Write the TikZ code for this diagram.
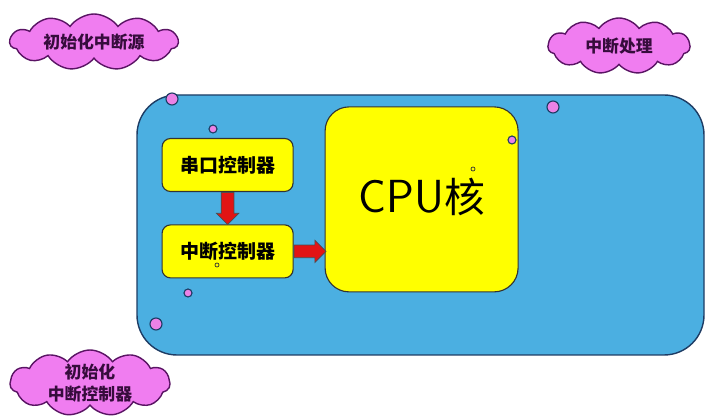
\documentclass[tikz,border=0pt]{standalone}
\usepackage{fontspec}
\newfontfamily\cjk{Noto Sans CJK SC}
\usetikzlibrary{shapes.symbols,shapes.arrows}
\definecolor{boardblue}{RGB}{75,175,225}
\definecolor{boardline}{RGB}{30,60,100}
\definecolor{chipyel}{RGB}{255,255,0}
\definecolor{cloudpink}{RGB}{240,125,240}
\definecolor{cloudline}{RGB}{90,20,100}
\definecolor{dotpink}{RGB}{235,130,230}
\definecolor{arrred}{RGB}{225,20,20}

\tikzset{
  cloudbox/.style={cloud, cloud puffs=11, cloud puff arc=110, draw=cloudline,
    fill=cloudpink, line width=1pt, inner sep=0pt},
  cloudtext/.style={font=\cjk\bfseries\fontsize{12}{16}\selectfont, text=cloudline!60!black, align=center},
  chipbox/.style={draw=black!80, fill=chipyel, rounded corners=6pt, line width=0.8pt,
    minimum width=3.275cm, minimum height=1.325cm, font=\cjk\bfseries\fontsize{13.5}{16}\selectfont},
  flowarrow/.style={single arrow, draw=black!70, fill=arrred, line width=0.5pt,
    inner xsep=0pt, inner ysep=0.15cm, single arrow head extend=0.12cm,
    single arrow head indent=0pt},
  dot/.style={circle, draw=boardline, fill=dotpink, line width=0.8pt, inner sep=0pt}
}

\begin{document}
\begin{tikzpicture}
  \useasboundingbox (0,0) rectangle (18,10.425);
  \fill[white] (0,0) rectangle (18,10.425);

  % board
  \node[draw=boardline, fill=boardblue, line width=1pt, rounded corners=1cm,
    minimum width=14.175cm, minimum height=6.5cm] (board) at (10.5125,4.8) {};

  % clouds
  \node[cloudbox, minimum width=4.2cm, minimum height=1.4cm] (src) at (2.35,9.375) {};
  \node[cloudtext] (srct) at (src.center) {初始化中断源};
  \node[cloudbox, minimum width=3.55cm, minimum height=1.4cm] (hdl) at (15.475,9.275) {};
  \node[cloudtext] (hdlt) at (hdl.center) {中断处理};
  \node[cloudbox, minimum width=4.0cm, minimum height=1.65cm] (ini) at (2.25,0.85) {};
  \node[cloudtext] (init) at (ini.center) {初始化\\中断控制器};

  % chips
  \node[chipbox] (uart) at (5.69,6.3) {串口控制器};
  \node[chipbox] (intc) at (5.69,4.14) {中断控制器};
  \node[draw=black!80, fill=chipyel, rounded corners=0.6cm, line width=0.8pt,
    minimum width=4.825cm, minimum height=4.625cm] (cpu) at (10.54,5.44) {};
  \node[font=\fontsize{33}{40}\selectfont\sffamily] (cput) at (10.54,5.5)
    {CPU{\cjk\fontsize{29}{36}\selectfont 核}};

  % arrows
  \node[flowarrow, rotate=-90, anchor=tail, minimum height=0.8cm] (a1) at (uart.south) {};
  \node[flowarrow, anchor=tail, minimum height=0.8cm] (a2) at (intc.east) {};

  % dots
  \node[dot, minimum size=0.3cm] (d1) at (4.3,7.95) {};
  \node[dot, minimum size=0.2cm] (d2) at (5.325,7.2) {};
  \node[dot, minimum size=0.2cm] (d3) at (4.7,3.1) {};
  \node[dot, minimum size=0.3cm] (d4) at (3.9,2.325) {};
  \node[dot, minimum size=0.3cm] (d5) at (13.825,7.75) {};
  \node[dot, minimum size=0.2cm] (d6) at (12.8,6.925) {};
  \node[dot, minimum size=0.1cm, fill=none, draw=black!80, line width=0.5pt] (d7) at (11.825,6.2) {};
  \node[dot, minimum size=0.1cm, fill=none, draw=black!80, line width=0.5pt] (d8) at (5.425,3.8) {};
\end{tikzpicture}
\end{document}
